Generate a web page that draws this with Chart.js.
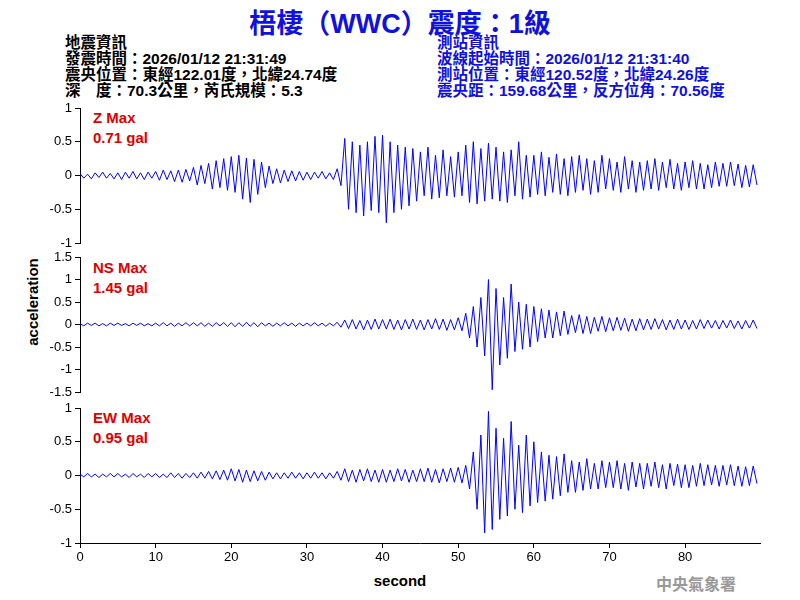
<!DOCTYPE html>
<html><head><meta charset="utf-8">
<script src="https://cdn.jsdelivr.net/npm/chart.js@4"></script>
<style>
body{margin:0;background:#fff;width:800px;height:600px;position:relative;overflow:hidden;font-family:"Liberation Sans",Arial,sans-serif}
canvas{position:absolute;left:0;top:0}
.t{position:absolute;white-space:nowrap}
.h{font-family:"Liberation Sans","Noto Sans CJK TC",sans-serif;font-weight:bold;font-size:15.5px;line-height:16px}
.r{color:#e00000;font-size:15px;font-weight:bold}
</style></head><body>
<div class="t" style="left:0;width:800px;top:2px;text-align:center;color:#1010e0;font:bold 27px 'Liberation Sans','Noto Sans CJK TC',sans-serif">梧棲（WWC）震度：1級</div>
<div class="t h" style="left:65px;top:35px;color:#000">地震資訊<br>發震時間：2026/01/12 21:31:49<br>震央位置：東經122.01度，北緯24.74度<br>深　度：70.3公里，芮氏規模：5.3</div>
<div class="t h" style="left:437px;top:35px;color:#1010e0">測站資訊<br>波線起始時間：2026/01/12 21:31:40<br>測站位置：東經120.52度，北緯24.26度<br>震央距：159.68公里，反方位角：70.56度</div>
<div class="t r" style="left:93px;top:109px">Z Max</div><div class="t r" style="left:93px;top:129px">0.71 gal</div>
<div class="t r" style="left:93px;top:259px">NS Max</div><div class="t r" style="left:93px;top:279px">1.45 gal</div>
<div class="t r" style="left:93px;top:409px">EW Max</div><div class="t r" style="left:93px;top:429px">0.95 gal</div>
<div class="t" style="left:32px;top:302px;transform:translate(-50%,-50%) rotate(-90deg);font-size:15px;font-weight:bold">acceleration</div>
<div class="t" style="left:400px;top:580px;transform:translate(-50%,-50%);font-size:15px;font-weight:bold">second</div>
<div class="t" style="left:656px;top:571px;color:#999;font:bold 16px 'Noto Sans CJK TC',serif">中央氣象署</div>
<canvas id="c1" width="800" height="600"></canvas>
<canvas id="c2" width="800" height="600"></canvas>
<canvas id="c3" width="800" height="600"></canvas>
<script>
const dt = 0.5;
const zValues = [0.03,-0.04,0.02,-0.05,0.04,-0.03,0.05,-0.04,0.03,-0.05,
0.04,-0.06,0.05,-0.04,0.06,-0.05,0.04,-0.06,0.05,-0.04,
0.06,-0.07,0.08,-0.06,0.07,-0.09,0.08,-0.1,0.09,-0.08,
0.12,-0.14,0.15,-0.12,0.18,-0.2,0.22,-0.18,0.25,-0.22,
0.28,-0.25,0.3,-0.35,0.26,-0.4,0.24,-0.28,0.2,-0.18,
0.14,-0.12,0.1,-0.11,0.08,-0.09,0.07,-0.08,0.06,-0.07,
0.05,-0.06,0.05,-0.04,0.06,-0.05,0.04,-0.06,0.1,-0.15,
0.55,-0.5,0.5,-0.55,0.45,-0.6,0.5,-0.52,0.58,-0.55,
0.6,-0.7,0.5,-0.55,0.45,-0.5,0.42,-0.45,0.4,-0.38,
0.35,-0.3,0.42,-0.35,0.3,-0.33,0.38,-0.3,0.28,-0.32,
0.35,-0.3,0.45,-0.4,0.5,-0.42,0.4,-0.38,0.48,-0.35,
0.42,-0.38,0.35,-0.4,0.38,-0.3,0.5,-0.35,0.3,-0.32,
0.3,-0.28,0.35,-0.3,0.27,-0.25,0.32,-0.28,0.25,-0.3,
0.28,-0.25,0.3,-0.22,0.25,-0.28,0.22,-0.25,0.3,-0.2,
0.25,-0.22,0.2,-0.25,0.28,-0.2,0.22,-0.25,0.2,-0.22,
0.22,-0.2,0.25,-0.22,0.2,-0.18,0.24,-0.2,0.18,-0.22,
0.2,-0.18,0.22,-0.2,0.18,-0.2,0.16,-0.18,0.2,-0.16,
0.18,-0.16,0.2,-0.15,0.17,-0.18,0.15,-0.17,0.16,-0.14];
const nsValues = [0.02,-0.03,0.03,-0.02,0.03,-0.03,0.02,-0.03,0.03,-0.02,
0.03,-0.02,0.02,-0.03,0.03,-0.02,0.03,-0.03,0.02,-0.03,
0.03,-0.03,0.04,-0.03,0.03,-0.04,0.03,-0.03,0.04,-0.03,
0.04,-0.03,0.04,-0.04,0.03,-0.04,0.04,-0.03,0.04,-0.04,
0.04,-0.05,0.04,-0.04,0.05,-0.04,0.04,-0.05,0.04,-0.03,
0.03,-0.04,0.03,-0.03,0.04,-0.03,0.03,-0.04,0.03,-0.03,
0.03,-0.03,0.04,-0.03,0.03,-0.04,0.03,-0.03,0.05,-0.06,
0.1,-0.09,0.11,-0.1,0.09,-0.12,0.1,-0.11,0.12,-0.1,
0.11,-0.1,0.12,-0.11,0.1,-0.12,0.11,-0.1,0.12,-0.11,
0.1,-0.12,0.11,-0.1,0.13,-0.11,0.12,-0.13,0.11,-0.12,
0.15,-0.14,0.25,-0.3,0.4,-0.5,0.6,-0.7,1.0,-1.45,
0.8,-0.9,0.6,-0.75,0.9,-0.6,0.5,-0.55,0.45,-0.5,
0.4,-0.38,0.35,-0.3,0.32,-0.3,0.28,-0.25,0.3,-0.22,
0.2,-0.18,0.22,-0.2,0.18,-0.2,0.16,-0.15,0.18,-0.16,
0.15,-0.14,0.16,-0.13,0.14,-0.15,0.12,-0.14,0.13,-0.12,
0.12,-0.11,0.13,-0.1,0.11,-0.12,0.1,-0.11,0.12,-0.1,
0.1,-0.11,0.09,-0.1,0.11,-0.09,0.1,-0.08,0.09,-0.1,
0.09,-0.08,0.1,-0.09,0.08,-0.1,0.09,-0.08,0.1,-0.09];
const ewValues = [0.02,-0.02,0.03,-0.02,0.02,-0.03,0.02,-0.02,0.03,-0.02,
0.03,-0.02,0.02,-0.03,0.03,-0.02,0.02,-0.03,0.03,-0.02,
0.03,-0.03,0.02,-0.03,0.04,-0.03,0.03,-0.04,0.03,-0.03,
0.04,-0.04,0.05,-0.04,0.06,-0.05,0.07,-0.06,0.08,-0.07,
0.1,-0.08,0.09,-0.1,0.08,-0.09,0.07,-0.08,0.06,-0.07,
0.05,-0.05,0.04,-0.05,0.04,-0.04,0.05,-0.04,0.04,-0.05,
0.04,-0.04,0.05,-0.04,0.04,-0.05,0.04,-0.04,0.06,-0.07,
0.1,-0.09,0.08,-0.1,0.09,-0.08,0.1,-0.09,0.08,-0.1,
0.09,-0.1,0.08,-0.09,0.1,-0.08,0.09,-0.1,0.08,-0.09,
0.1,-0.09,0.11,-0.1,0.09,-0.11,0.1,-0.09,0.11,-0.1,
0.12,-0.11,0.15,-0.2,0.35,-0.5,0.6,-0.85,0.95,-0.8,
0.7,-0.65,0.55,-0.6,0.8,-0.5,0.45,-0.55,0.6,-0.45,
0.5,-0.4,0.35,-0.38,0.3,-0.35,0.28,-0.3,0.32,-0.25,
0.22,-0.25,0.2,-0.22,0.25,-0.2,0.18,-0.2,0.22,-0.18,
0.2,-0.18,0.22,-0.2,0.18,-0.22,0.2,-0.17,0.18,-0.2,
0.18,-0.16,0.2,-0.18,0.16,-0.2,0.18,-0.15,0.17,-0.18,
0.16,-0.18,0.15,-0.16,0.18,-0.15,0.16,-0.14,0.15,-0.16,
0.15,-0.14,0.16,-0.15,0.14,-0.16,0.13,-0.15,0.14,-0.12];
const xTicks = [0,10,20,30,40,50,60,70,80];

function pts(v){return v.map((y,i)=>({x:i*dt,y}));}
function make(id,vals,ymax,top,bottom,showX){
  const x = {type:'linear',min:0,max:89.9,display:showX,
          afterBuildTicks:a=>{a.ticks=xTicks.map(v=>({value:v}));},
          grid:{drawOnChartArea:false,drawTicks:true,tickLength:5,color:'#000'},
          border:{color:'#000'},
          ticks:{color:'#000',font:{size:13,family:'Liberation Sans'},maxRotation:0,padding:2}};
  if(showX) x.afterFit = a=>{a.height=30;};
  new Chart(document.getElementById(id),{
    type:'line',
    data:{datasets:[{data:pts(vals),borderColor:'#0000ff',borderWidth:1,pointRadius:0,tension:0}]},
    options:{responsive:false,animation:false,events:[],
      layout:{padding:{left:30,right:40,top:top,bottom:showX?600-bottom-30:600-bottom}},
      plugins:{legend:{display:false},tooltip:{enabled:false}},
      scales:{
        x:x,
        y:{min:-ymax,max:ymax,afterFit:a=>{a.width=50;},
          grid:{drawOnChartArea:false,drawTicks:true,tickLength:5,color:'#000'},
          border:{color:'#000'},
          ticks:{stepSize:0.5,color:'#000',font:{size:13,family:'Liberation Sans'},padding:3,
            callback:v=>String(Number(v))}}
      }}
  });
}
make('c1',zValues,1,108,243,false);
make('c2',nsValues,1.5,257,392,false);
make('c3',ewValues,1,408,543,true);
</script></body></html>
